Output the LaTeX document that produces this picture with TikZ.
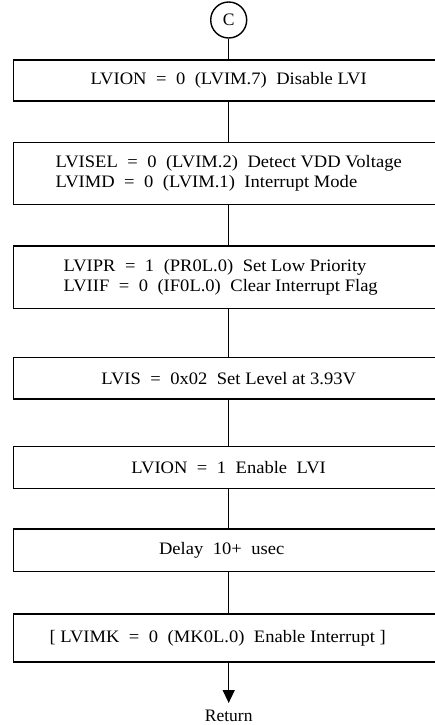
\documentclass[tikz,border=0pt]{standalone}
\usepackage{fontspec}
\setmainfont{Liberation Serif}
\newfontfamily\boxfont[FakeStretch=1.06]{Liberation Serif}
\usetikzlibrary{arrows.meta}
\tikzset{
  flow/.style={line width=1.4pt, draw=black},
  stepbox/.style={flow, rectangle, minimum width=430.7pt, inner sep=0pt,
    align=left, font=\boxfont\fontsize{17.5}{20}\selectfont},
  conn/.style={circle, flow, minimum size=36pt, inner sep=0pt,
    font=\fontsize{17.5}{20}\selectfont},
  link/.style={flow},
  endarrow/.style={flow, -{Triangle[width=12pt,length=13pt]}},
}
% wide gap between the fields of a register assignment
\newcommand{\gap}{\hspace{9.5pt}}
% invisible trailing pad that moves a centred text to the left
\newcommand{\padr}[1]{\rule{#1}{0pt}}
\begin{document}
\begin{tikzpicture}[x=1pt,y=-1pt]
  \useasboundingbox (0,0) rectangle (435,725);
  \clip (0,0) rectangle (435,725);
  \node[conn] (c) at (228.7,20) {C};
  \node[stepbox, minimum height=41pt] (b1) at (228.7,80.5)
    {LVION\gap=\gap0\gap(LVIM.7)\gap Disable LVI};
  \node[stepbox, minimum height=62pt] (b2) at (228.7,173.7)
    {LVISEL\gap=\gap0\gap(LVIM.2)\gap Detect VDD Voltage\\
     LVIMD\gap=\gap0\gap(LVIM.1)\gap Interrupt Mode};
  \node[stepbox, minimum height=62.7pt] (b3) at (228.7,277.4)
    {LVIPR\gap=\gap1\gap(PR0L.0)\gap Set Low Priority\\
     LVIIF\gap=\gap0\gap(IF0L.0)\gap Clear Interrupt Flag\padr{16pt}};
  \node[stepbox, minimum height=41.7pt] (b4) at (228.7,378.2)
    {LVIS\gap=\gap0x02\gap Set Level at 3.93V};
  \node[stepbox, minimum height=42pt] (b5) at (228.7,467.7)
    {LVION\gap=\gap1\gap Enable\gap LVI};
  \node[stepbox, minimum height=42.7pt] (b6) at (228.7,550.4)
    {Delay\gap 10+\gap usec\padr{14pt}};
  \node[stepbox, minimum height=48pt] (b7) at (228.7,638)
    {[ LVIMK\gap=\gap0\gap(MK0L.0)\gap Enable Interrupt ]\padr{22pt}};
  \coordinate (tip) at (228.7,703);
  \node[font=\fontsize{17.5}{20}\selectfont, inner sep=0pt, anchor=base] (ret) at (228.7,721.5) {Return};
  \draw[link] (c) -- (b1);
  \draw[link] (b1) -- (b2);
  \draw[link] (b2) -- (b3);
  \draw[link] (b3) -- (b4);
  \draw[link] (b4) -- (b5);
  \draw[link] (b5) -- (b6);
  \draw[link] (b6) -- (b7);
  \draw[endarrow] (b7.south) -- (tip);
\end{tikzpicture}
\end{document}
